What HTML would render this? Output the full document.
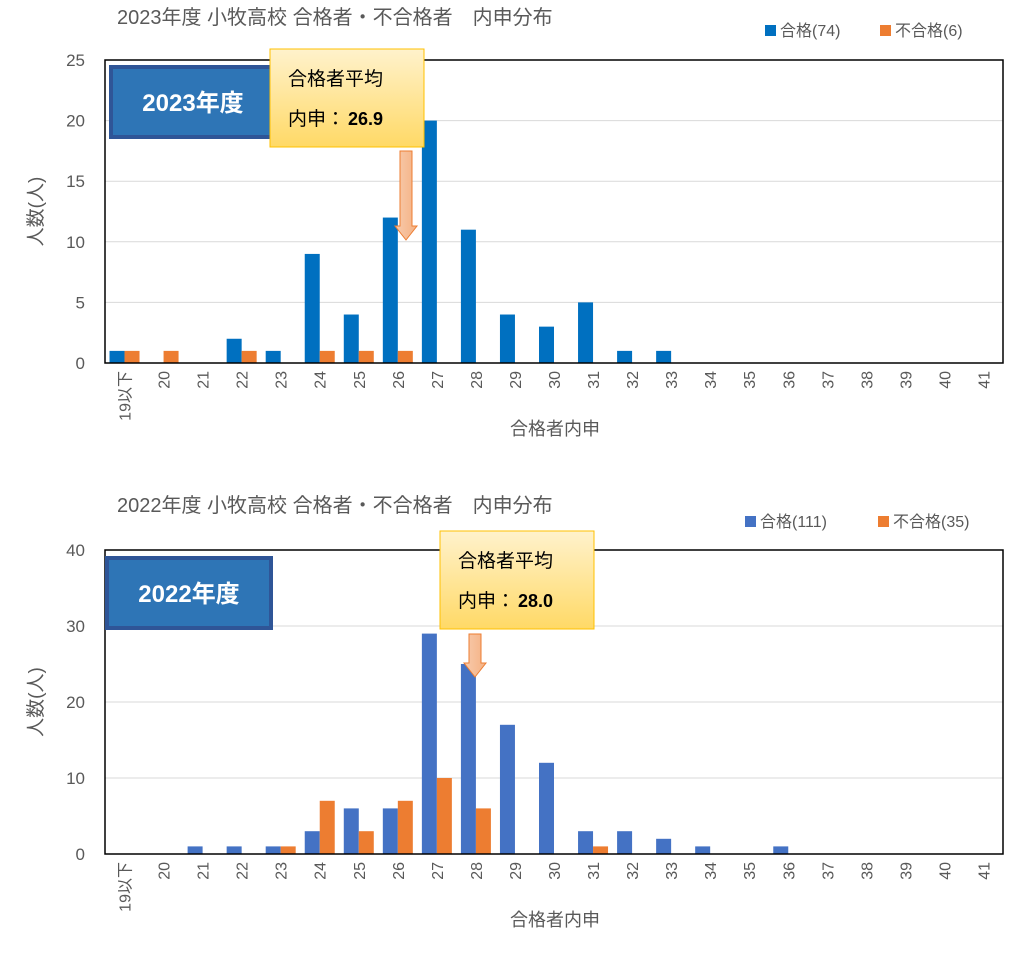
<!DOCTYPE html>
<html><head><meta charset="utf-8">
<style>
body{margin:0;background:#fff;}
svg text{font-family:"Liberation Sans","Noto Sans CJK JP",sans-serif;}
</style></head>
<body>
<svg id="svg" width="1024" height="955" xmlns="http://www.w3.org/2000/svg">
<defs>
<linearGradient id="yg" x1="0" y1="0" x2="0" y2="1"><stop offset="0" stop-color="#FFF2CC"/><stop offset="1" stop-color="#FFD966"/></linearGradient>
<linearGradient id="ag" x1="0" y1="0" x2="1" y2="0"><stop offset="0" stop-color="#F8CBAD"/><stop offset="1" stop-color="#F4B183"/></linearGradient>
</defs>
</svg>
<script>
const categories=["19以下","20","21","22","23","24","25","26","27","28","29","30","31","32","33","34","35","36","37","38","39","40","41"];
const pass2023=[1,0,0,2,1,9,4,12,20,11,4,3,5,1,1,0,0,0,0,0,0,0,0];
const fail2023=[1,1,0,1,0,1,1,1,0,0,0,0,0,0,0,0,0,0,0,0,0,0,0];
const pass2022=[0,0,1,1,1,3,6,6,29,25,17,12,3,3,2,1,0,1,0,0,0,0,0];
const fail2022=[0,0,0,0,1,7,3,7,10,6,0,0,1,0,0,0,0,0,0,0,0,0,0];
const ticks2023=[0,5,10,15,20,25];
const ticks2022=[0,10,20,30,40];
const svg=document.getElementById('svg');
const NS='http://www.w3.org/2000/svg';
function mk(tag,attrs,parent,txt){const e=document.createElementNS(NS,tag);for(const k in attrs)e.setAttribute(k,attrs[k]);if(txt!==undefined)e.textContent=txt;(parent||svg).appendChild(e);return e;}
function chart(cfg){
  const g=mk('g',{});
  
  
  const L=105,R=1003,T=cfg.top,B=cfg.bottom,max=cfg.ticks[cfg.ticks.length-1];
  const y=v=>B-(v/max)*(B-T);
  const bw=(R-L)/categories.length;
  const x=i=>L+i*bw;
  const t=mk('text',{x:117,y:cfg.titleY,'font-size':20,fill:'#595959'},g,cfg.title);
  
  cfg.ticks.forEach(v=>{
    if(v>0&&v<max){const l=mk('line',{x1:L,x2:R,y1:y(v),y2:y(v),stroke:'#d9d9d9','stroke-width':1},g);
    }
    const tl=mk('text',{x:85,y:y(v)+6,'font-size':17,fill:'#595959','text-anchor':'end'},g,v);
    
  });
  categories.forEach((c,i)=>{
    const cx=x(i)+bw/2;
    if(cfg.pass[i]>0){const r=mk('rect',{x:cx-15,y:y(cfg.pass[i]),width:15,height:B-y(cfg.pass[i]),fill:cfg.c1},g);
    }
    if(cfg.fail[i]>0){const r=mk('rect',{x:cx,y:y(cfg.fail[i]),width:15,height:B-y(cfg.fail[i]),fill:'#ED7D31'},g);
    }
    const tx=mk('text',{x:0,y:0,'font-size':16,fill:'#595959','text-anchor':'end',transform:`translate(${cx+6},${B+8}) rotate(-90)`},g,c);
    
  });
  const fr=mk('rect',{x:L,y:T,width:R-L,height:B-T,fill:'none',stroke:'#000','stroke-width':1.5},g);
  
  const xt=mk('text',{x:555,y:B+72,'font-size':18,fill:'#595959','text-anchor':'middle'},g,'合格者内申');
  
  const yt=mk('text',{x:0,y:0,'font-size':19,fill:'#595959','text-anchor':'middle',transform:`translate(42,${(T+B)/2}) rotate(-90)`},g,'人数(人)');
  
  // legend
  const lg=mk('g',{},g);
  mk('rect',{x:cfg.legX,y:cfg.legY-11,width:11,height:11,fill:cfg.c1},lg);
  mk('text',{x:cfg.legX+15,y:cfg.legY,'font-size':16,fill:'#595959'},lg,cfg.l1);
  mk('rect',{x:cfg.legX2,y:cfg.legY-11,width:11,height:11,fill:'#ED7D31'},lg);
  mk('text',{x:cfg.legX2+15,y:cfg.legY,'font-size':16,fill:'#595959'},lg,cfg.l2);
  // badge
  const bd=mk('g',{},g);
  mk('rect',{x:cfg.bx,y:cfg.by,width:164,height:70,fill:'#2E75B6',stroke:'#2F5597','stroke-width':4},bd);
  mk('text',{x:cfg.bx+82,y:cfg.by+44,'font-size':24,'font-weight':'bold',fill:'#fff','text-anchor':'middle'},bd,cfg.year);
  // callout
  const co=mk('g',{},g);
  mk('rect',{x:cfg.cx,y:cfg.cy,width:154,height:98,fill:'url(#yg)',stroke:'#FFC000','stroke-width':1},co);
  mk('text',{x:cfg.cx+18,y:cfg.cy+36,'font-size':19,fill:'#000'},co,'合格者平均');
  mk('text',{x:cfg.cx+18,y:cfg.cy+76,'font-size':19,fill:'#000'},co,'内申：');
  mk('text',{x:cfg.cx+78,y:cfg.cy+76,'font-size':18,'font-weight':'bold',fill:'#000'},co,cfg.avg);
  const ax=cfg.ax,a1=cfg.ay1,a2=cfg.ay2;
  const ar=mk('polygon',{points:`${ax-6},${a1} ${ax+6},${a1} ${ax+6},${a2-14} ${ax+11},${a2-14} ${ax},${a2} ${ax-11},${a2-14} ${ax-6},${a2-14}`,fill:'url(#ag)',stroke:'#ED7D31','stroke-width':1},co);
  
}
chart({name:'chart-2023',top:60,bottom:363,ticks:ticks2023,pass:pass2023,fail:fail2023,c1:'#0070C0',title:'2023年度 小牧高校 合格者・不合格者　内申分布',titleY:24,legX:765,legX2:880,legY:36,l1:'合格(74)',l2:'不合格(6)',bx:111,by:67,year:'2023年度',cx:270,cy:49,avg:'26.9',ax:406,ay1:151,ay2:240});
chart({name:'chart-2022',top:550,bottom:854,ticks:ticks2022,pass:pass2022,fail:fail2022,c1:'#4472C4',title:'2022年度 小牧高校 合格者・不合格者　内申分布',titleY:512,legX:745,legX2:878,legY:527,l1:'合格(111)',l2:'不合格(35)',bx:107,by:558,year:'2022年度',cx:440,cy:531,avg:'28.0',ax:475,ay1:634,ay2:677});
</script>
</body></html>
